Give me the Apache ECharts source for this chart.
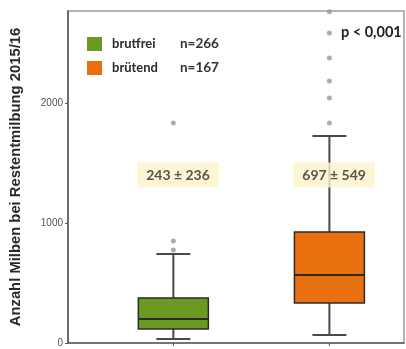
<!DOCTYPE html>
<html>
<head>
<meta charset="utf-8">
<script src="https://cdn.jsdelivr.net/npm/echarts@6/dist/echarts.min.js"></script>
<style>
  html, body { margin: 0; padding: 0; background: #ffffff; }
  #chart { width: 406px; height: 349px; }
</style>
</head>
<body>
<div id="chart"></div>
<script>
// Groups and five-number summaries (min whisker, Q1, median, Q3, max whisker)
const groups = ['brutfrei', 'brütend'];
const groupCounts = [266, 167];
const groupColors = ['#6b9a22', '#e8700e'];
const boxStats = [
  [33, 117, 200, 375, 742],
  [67, 333, 567, 925, 1725]
];
// Outliers beyond the whiskers
const outliersBrutfrei = [775, 850, 1833];
const outliersBruetend = [1833, 2042, 2183, 2375, 2583, 2760];
// Mean ± standard deviation
const means = [243, 697];
const sds = [236, 549];
const yTicks = [0, 1000, 2000];

const chart = echarts.init(document.getElementById('chart'), null, { renderer: 'canvas' });

function boxRenderer(params, api) {
  const x = api.value(0);
  const lo = api.coord([x, api.value(1)]);
  const q1 = api.coord([x, api.value(2)]);
  const med = api.coord([x, api.value(3)]);
  const q3 = api.coord([x, api.value(4)]);
  const hi = api.coord([x, api.value(5)]);
  const base = api.coord([x, 0]);
  const cx = lo[0];
  const halfBox = 35, halfCap = 17;
  const color = api.visual('color');
  const wl = { stroke: '#4a4a4a', lineWidth: 2 };
  return {
    type: 'group',
    children: [
      { type: 'line', shape: { x1: cx, y1: hi[1], x2: cx, y2: q3[1] }, style: wl },
      { type: 'line', shape: { x1: cx, y1: q1[1], x2: cx, y2: lo[1] }, style: wl },
      { type: 'line', shape: { x1: cx - halfCap, y1: hi[1], x2: cx + halfCap, y2: hi[1] }, style: wl },
      { type: 'line', shape: { x1: cx - halfCap, y1: lo[1], x2: cx + halfCap, y2: lo[1] }, style: wl },
      { type: 'rect', shape: { x: cx - halfBox, y: q3[1], width: halfBox * 2, height: q1[1] - q3[1] },
        style: { fill: color, stroke: '#2b2b2b', lineWidth: 1.5 } },
      { type: 'line', shape: { x1: cx - halfBox, y1: med[1], x2: cx + halfBox, y2: med[1] },
        style: { stroke: '#2b2b2b', lineWidth: 2 } },
      // small category tick below the axis
      { type: 'line', shape: { x1: cx, y1: base[1], x2: cx, y2: base[1] + 3 },
        style: { stroke: '#555', lineWidth: 1 } }
    ]
  };
}

const groupSeries = groups.map((name, i) => ({
  name: name,
  type: 'custom',
  renderItem: boxRenderer,
  itemStyle: { color: groupColors[i] },
  encode: { x: 0, y: [1, 2, 3, 4, 5] },
  data: [[i + 1].concat(boxStats[i])],
  z: 2
}));

const outlierData = outliersBrutfrei.map(v => [1, v]).concat(outliersBruetend.map(v => [2, v]));

chart.setOption({
  animation: false,
  backgroundColor: '#ffffff',
  textStyle: { fontFamily: 'Liberation Sans, Arial, sans-serif' },
  grid: {
    left: 66, right: 2, top: 11, bottom: 6,
    show: true, borderColor: '#9a9a9a', borderWidth: 1.5, backgroundColor: 'transparent'
  },
  legend: {
    orient: 'vertical',
    left: 87, top: 37, padding: 0,
    itemWidth: 15, itemHeight: 14, itemGap: 10,
    icon: 'rect',
    data: groups,
    formatter: name => {
      const i = groups.indexOf(name);
      return '{n|' + name + '}{c|n=' + groupCounts[i] + '}';
    },
    textStyle: {
      rich: {
        n: { fontFamily: 'Lato', fontWeight: 'bold', fontSize: 13, color: '#2a2a2a', width: 68, padding: [0, 0, 0, 5] },
        c: { fontFamily: 'Lato', fontWeight: 'bold', fontSize: 13.5, color: '#333' }
      }
    }
  },
  xAxis: {
    type: 'value', min: 0.325, max: 2.478,
    axisLine: { show: true, lineStyle: { color: '#5a6270', width: 1.5 } },
    axisTick: { show: false }, axisLabel: { show: false }, splitLine: { show: false }
  },
  yAxis: {
    type: 'value', min: 0, max: 2767, interval: 1000,
    name: 'Anzahl Milben bei Restentmilbung 2015/16',
    nameLocation: 'middle', nameGap: 45, nameRotate: 90,
    nameTextStyle: { fontFamily: 'Liberation Sans', fontWeight: 'bold', fontSize: 14.8, color: '#2a2a2a' },
    axisLine: { show: true, lineStyle: { color: '#555', width: 1.5 } },
    axisTick: { show: true, length: 3, lineStyle: { color: '#555' } },
    axisLabel: {
      showMaxLabel: false, fontSize: 10, color: '#555', margin: 5,
      fontFamily: 'Liberation Sans Narrow, Liberation Sans',
      formatter: v => (yTicks.indexOf(v) >= 0 ? String(v) : '')
    },
    splitLine: { show: false }
  },
  series: groupSeries.concat([
    {
      name: 'Ausreißer',
      type: 'scatter',
      symbol: 'circle', symbolSize: 5,
      itemStyle: { color: '#999999' },
      data: outlierData,
      z: 3
    },
    {
      name: 'Mittelwert',
      type: 'scatter',
      symbolSize: 0,
      data: means.map((m, i) => [i + 1.03, 1400, m, sds[i]]),
      label: {
        show: true, position: 'inside',
        formatter: p => p.value[2] + ' ± ' + p.value[3],
        fontFamily: 'Lato', fontWeight: 'bold', fontSize: 14, color: '#2a2a2a',
        backgroundColor: '#fbf4cb', padding: [6, 9, 5, 9]
      },
      z: 4
    }
  ]),
  graphic: [
    {
      type: 'text', left: 341, top: 25,
      style: { text: 'p < 0,001', font: 'bold 14.5px Lato', fill: '#222' }
    }
  ]
});
</script>
</body>
</html>
